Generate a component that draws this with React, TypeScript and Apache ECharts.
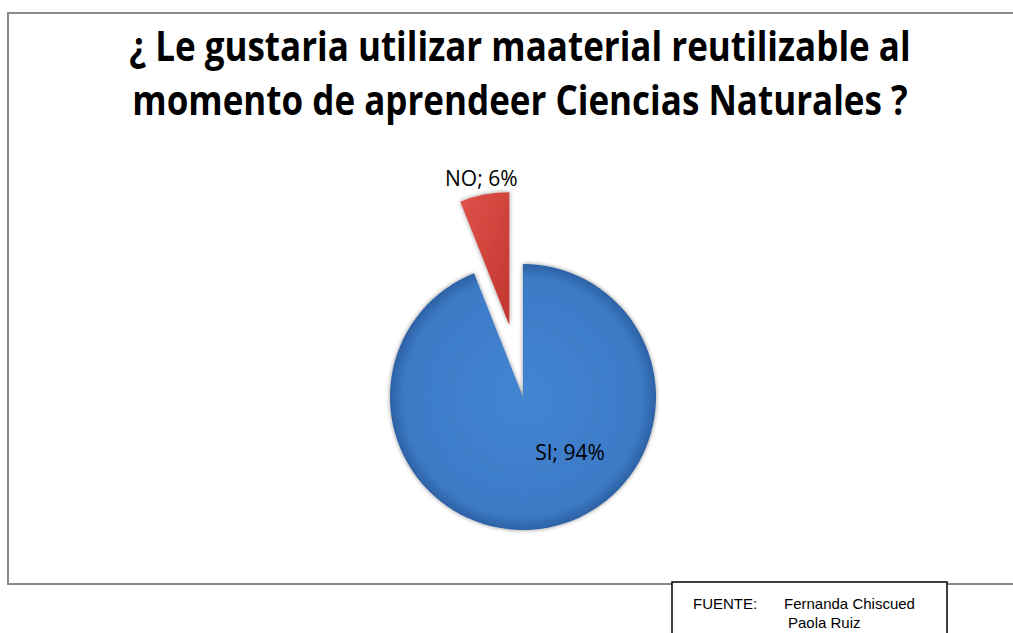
import React, { useEffect, useRef } from "react";
import * as echarts from "echarts";

const titleLines = [
  "¿ Le gustaria utilizar maaterial reutilizable al",
  "momento de aprendeer Ciencias Naturales ?",
];
const categories = ["SI", "NO"];
const values = [94, 6];
const sourceLabel = "FUENTE:";
const sourceNames = ["Fernanda Chiscued", "Paola Ruiz"];

export default function App() {
  const ref = useRef<HTMLDivElement>(null);
  useEffect(() => {
    if (!ref.current) return;
    const chart = echarts.init(ref.current, null, { renderer: "svg" });
    const blue = new echarts.graphic.RadialGradient(0.5, 0.5, 0.5, [
      { offset: 0, color: "#4385d1" },
      { offset: 0.9, color: "#3c7ac6" },
      { offset: 1, color: "#2d61a4" },
    ]);
    const red = new echarts.graphic.LinearGradient(0, 0, 1, 1, [
      { offset: 0, color: "#e0524a" },
      { offset: 1, color: "#c0362f" },
    ]);
    const labelOffsets = [
      [34, -13],
      [-15, -79],
    ];
    chart.setOption({
      animation: false,
      backgroundColor: "#ffffff",
      graphic: [
        {
          type: "rect",
          shape: { x: 8, y: 13, width: 1020, height: 571 },
          style: { fill: "none", stroke: "#8a8a8a", lineWidth: 2 },
          silent: true,
        },
        ...titleLines.map((t, i) => ({
          type: "text",
          x: 520,
          y: 46 + i * 54,
          scaleY: 1.15,
          style: {
            text: t,
            fontFamily: "Open Sans",
            fontWeight: "bold",
            fontSize: 35,
            fill: "#000",
            align: "center",
            verticalAlign: "middle",
          },
        })),
        {
          type: "rect",
          shape: { x: 672, y: 582, width: 275, height: 60 },
          style: { fill: "#fff", stroke: "#000", lineWidth: 1.5 },
        },
        {
          type: "text",
          x: 693,
          y: 603,
          style: { text: sourceLabel, fontFamily: "Liberation Sans", fontSize: 15, fill: "#000", verticalAlign: "middle" },
        },
        ...sourceNames.map((n, i) => ({
          type: "text",
          x: i === 0 ? 784 : 788,
          y: 603 + i * 19,
          style: { text: n, fontFamily: "Liberation Sans", fontSize: 15, fill: "#000", verticalAlign: "middle" },
        })),
      ],
      series: [
        {
          type: "pie",
          center: [523, 397],
          radius: [0, 133],
          startAngle: 90,
          clockwise: true,
          selectedMode: "single",
          selectedOffset: 73,
          avoidLabelOverlap: false,
          labelLine: { show: false },
          label: {
            show: true,
            position: "inside",
            formatter: "{b}; {d}%",
            fontFamily: "Open Sans",
            fontSize: 21,
            color: "#000",
          },
          itemStyle: { shadowBlur: 4, shadowColor: "rgba(0,0,0,0.45)" },
          data: categories.map((c, i) => ({
            name: c,
            value: values[i],
            selected: i === 1,
            itemStyle: { color: i === 0 ? blue : red },
            label: { offset: labelOffsets[i] },
            select: { label: { offset: labelOffsets[i] } },
          })),
        },
      ],
    });
    return () => chart.dispose();
  }, []);
  return (
    <div
      ref={ref}
      style={{ position: "absolute", left: 0, top: 0, width: 1013, height: 633 }}
    />
  );
}
